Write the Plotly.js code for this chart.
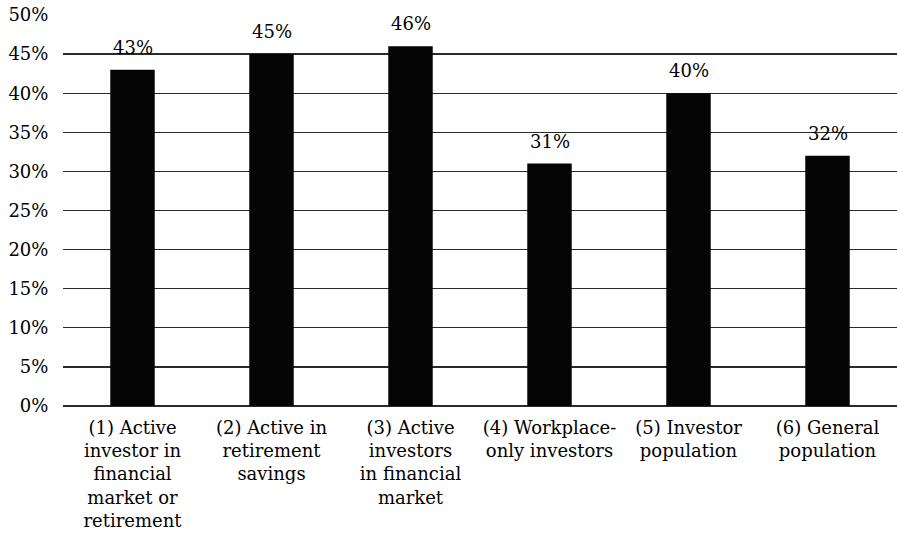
<!DOCTYPE html>
<html>
<head>
<meta charset="utf-8">
<script src="https://cdn.plot.ly/plotly-3.0.1.min.js"></script>
<style>html,body{margin:0;padding:0;background:#fff;}#chart{width:897px;height:533px;}</style>
</head>
<body>
<div id="chart"></div>
<script>
var categories = [
  "(1) Active<br>investor in<br>financial<br>market or<br>retirement",
  "(2) Active in<br>retirement<br>savings",
  "(3) Active<br>investors<br>in financial<br>market",
  "(4) Workplace-<br>only investors",
  "(5) Investor<br>population",
  "(6) General<br>population"
];
var values = [43, 45, 46, 31, 40, 32];
var tickVals = [0, 5, 10, 15, 20, 25, 30, 35, 40, 45, 50];
var tickText = tickVals.map(function(v){ return v + "%"; });

var font = {family: "DejaVu Serif, Liberation Serif, serif", size: 18, color: "#000"};

var annotations = categories.map(function(c, i){
  return {x: c, y: values[i], text: values[i] + "%", showarrow: false,
          xref: "x", yref: "y", yanchor: "bottom", yshift: 10,
          font: {family: font.family, size: 18, color: "#000"}};
});

Plotly.newPlot("chart", [{
  type: "bar",
  x: categories,
  y: values,
  marker: {color: "#050505", line: {width: 0}},
  hoverinfo: "none"
}], {
  width: 897, height: 533,
  margin: {l: 63, r: 0, t: 15, b: 127},
  paper_bgcolor: "#fff", plot_bgcolor: "#fff",
  bargap: 0.68,
  showlegend: false,
  font: font,
  xaxis: {
    type: "category",
    showgrid: false, zeroline: false, showline: false,
    ticks: "outside", ticklen: 5, tickcolor: "rgba(0,0,0,0)",
    tickfont: font, tickangle: 0
  },
  yaxis: {
    range: [0, 50],
    tickvals: tickVals, ticktext: tickText,
    showgrid: true, gridcolor: "#2a2a2a", gridwidth: 1.3,
    zeroline: true, zerolinecolor: "#2a2a2a", zerolinewidth: 1.3,
    showline: false,
    ticks: "outside", ticklen: 10, tickcolor: "rgba(0,0,0,0)",
    tickfont: font
  },
  annotations: annotations
}, {displayModeBar: false, staticPlot: true});
</script>
</body>
</html>
